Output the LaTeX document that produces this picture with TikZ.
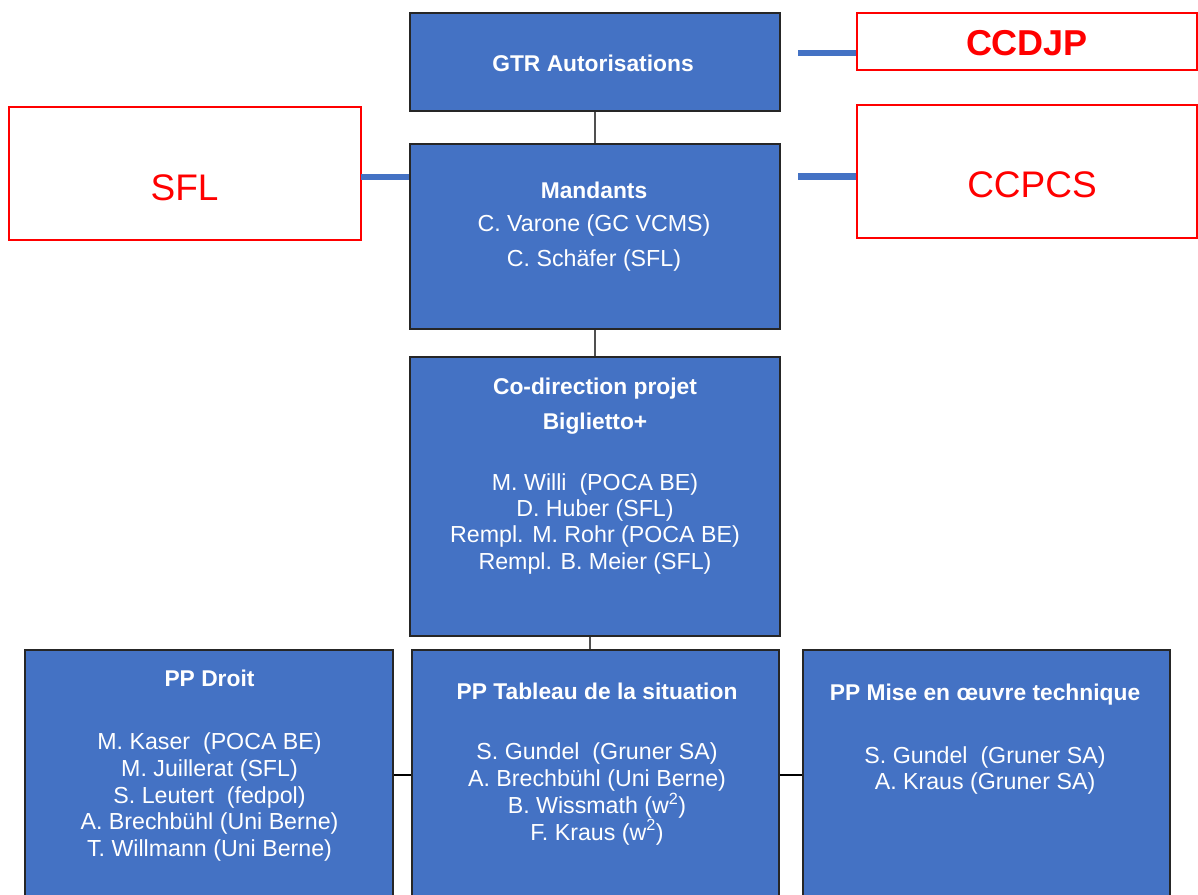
\documentclass[tikz,border=0pt]{standalone}
\usepackage{fontspec}
\setmainfont{Liberation Sans}
\definecolor{boxblue}{HTML}{4472C4}
\definecolor{boxred}{HTML}{FF0000}
\definecolor{connGray}{HTML}{505050}
\begin{document}
\begin{tikzpicture}[x=1pt,y=-1pt,
  bluebox/.style={draw=black!85, line width=1.5pt, fill=boxblue, rectangle, inner sep=0pt},
  redbox/.style={draw=boxred, line width=1.5pt, fill=white, rectangle, inner sep=0pt},
  txt/.style={text=white, font=\fontsize{23.2}{27}\selectfont, anchor=base, inner sep=0pt},
  headtxt/.style={txt, font=\bfseries\fontsize{22.8}{27}\selectfont},
  redtxt/.style={text=boxred, anchor=base, inner sep=0pt, font=\fontsize{37}{44}\selectfont},
  vconn/.style={draw=connGray, line width=2.2pt},
  hconn/.style={draw=black, line width=1.5pt},
  bluelink/.style={draw=boxblue, line width=6.5pt}
]
\clip (0,0) rectangle (1198,894);
\fill[white] (0,0) rectangle (1198,894);

% blue boxes
\node[bluebox, minimum width=370pt, minimum height=98pt]  (gtr)   at (595,62)    {};
\node[bluebox, minimum width=370pt, minimum height=185pt] (mand)  at (595,236.5) {};
\node[bluebox, minimum width=370pt, minimum height=279pt] (codir) at (595,496.5) {};
\node[bluebox, minimum width=368pt, minimum height=250pt] (droit) at (209,775)   {};
\node[bluebox, minimum width=367pt, minimum height=250pt] (tab)   at (595.5,775) {};
\node[bluebox, minimum width=367pt, minimum height=250pt] (mise)  at (986.5,775) {};

% red boxes
\node[redbox, minimum width=340pt, minimum height=57pt]  (ccdjp) at (1027,41.5)  {};
\node[redbox, minimum width=340pt, minimum height=133pt] (ccpcs) at (1027,171.5) {};
\node[redbox, minimum width=352pt, minimum height=133pt] (sfl)   at (185,173.5)  {};

% connectors
\draw[vconn] (gtr.south) -- (mand.north);
\draw[vconn] (mand.south) -- (codir.north);
\draw[vconn] ([xshift=-5pt]codir.south) -- ([xshift=-5pt]codir.south |- tab.north);
\draw[hconn] (droit.east) -- (tab.west);
\draw[hconn] (tab.east) -- (mise.west);

\coordinate (ccdjpend) at (798,53);
\coordinate (ccpcsend) at (798,176.5);
\coordinate (sfllink)  at (361,177);
\draw[bluelink] (ccdjpend) -- (ccdjpend -| ccdjp.west);
\draw[bluelink] (ccpcsend) -- (ccpcsend -| ccpcs.west);
\draw[bluelink] (sfllink) -- (sfllink -| mand.west);

% red texts
\node[redtxt, font=\bfseries\fontsize{36}{43}\selectfont] (ccdjpt) at (1027,55) {CCDJP};
\node[redtxt] (ccpcst) at (1032,197) {CCPCS};
\node[redtxt] (sflt)   at (184.5,200) {SFL};

% GTR
\node[headtxt] (gtrt) at (593,71) {GTR Autorisations};

% Mandants
\node[headtxt] (mandh) at (594,198) {Mandants};
\node[txt] (mand1) at (594,231.7) {C. Varone (GC VCMS)};
\node[txt] (mand2) at (594,266.7) {C. Schäfer (SFL)};

% Co-direction
\node[headtxt] (codirh1) at (595,394) {Co-direction projet};
\node[headtxt] (codirh2) at (595,429) {Biglietto+};
\foreach \t [count=\i from 0] in {M. Willi~~(POCA BE), D. Huber (SFL), Rempl. M. Rohr (POCA BE), Rempl. B. Meier (SFL)}
  \node[txt] (codirm\i) at (595,{490+26.4*\i}) {\t};

% PP Droit
\node[headtxt] (droith) at (209.5,686.7) {PP Droit};
\foreach \t [count=\i from 0] in {M. Kaser~~(POCA BE), M. Juillerat (SFL), S. Leutert~~(fedpol), A. Brechbühl (Uni Berne), T. Willmann (Uni Berne)}
  \node[txt] (droitm\i) at (209.5,{749.3+26.85*\i}) {\t};

% PP Tableau
\node[headtxt] (tabh) at (597,699) {PP Tableau de la situation};
\foreach \t [count=\i from 0] in {S. Gundel~~(Gruner SA), A. Brechbühl (Uni Berne), B. Wissmath (w\textsuperscript{2}), F. Kraus (w\textsuperscript{2})}
  \node[txt] (tabm\i) at (597,{759.3+26.9*\i}) {\t};

% PP Mise
\node[headtxt] (miseh) at (985,700.7) {PP Mise en œuvre technique};
\foreach \t [count=\i from 0] in {S. Gundel~~(Gruner SA), A. Kraus (Gruner SA)}
  \node[txt] (misem\i) at (985,{763.3+25.7*\i}) {\t};
\end{tikzpicture}
\end{document}
